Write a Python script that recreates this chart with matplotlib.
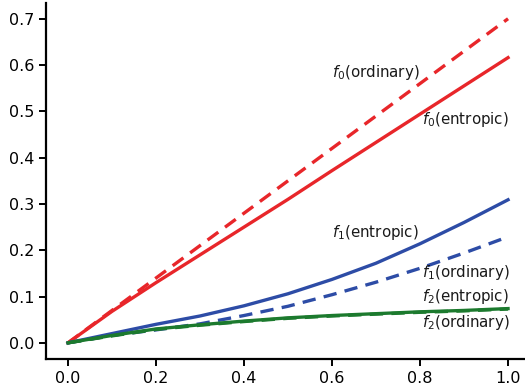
"""entropic vs ordinary"""

import numpy as np
import matplotlib.pyplot as plt

# 読み取った値
x = [0.0, 0.1, 0.2, 0.3, 0.4, 0.5, 0.6, 0.7, 0.8, 0.9, 1.0]
f0_ordinary = [0.0, 0.07, 0.14, 0.21, 0.28, 0.35, 0.42, 0.49, 0.56, 0.63, 0.70]
f0_entropic = [0.0, 0.068, 0.130, 0.190, 0.250, 0.310, 0.372, 0.433, 0.494, 0.555, 0.616]
f1_entropic = [0.0, 0.020, 0.040, 0.058, 0.080, 0.106, 0.137, 0.172, 0.214, 0.260, 0.309]
f1_ordinary = [0.0, 0.016, 0.028, 0.041, 0.059, 0.079, 0.104, 0.131, 0.161, 0.194, 0.229]
f2_entropic = [0.0, 0.016, 0.030, 0.039, 0.047, 0.054, 0.059, 0.063, 0.067, 0.070, 0.074]
f2_ordinary = [0.0, 0.015, 0.029, 0.038, 0.046, 0.053, 0.058, 0.062, 0.066, 0.069, 0.073]

labels = ["$f_0$(ordinary)", "$f_0$(entropic)", "$f_1$(entropic)",
          "$f_1$(ordinary)", "$f_2$(entropic)", "$f_2$(ordinary)"]
label_x = [0.60, 0.805, 0.60, 0.805, 0.805, 0.805]
label_y = [0.584, 0.482, 0.239, 0.151, 0.101, 0.045]

red = "#e8262a"
blue = "#2d4ca6"
green = "#1c7a2e"

fig = plt.figure(figsize=(5.25, 3.89), dpi=100)
ax = fig.add_axes([0.0876, 0.077, 0.922, 0.9165])

lw = 2.4
ax.plot(x, f0_ordinary, color=red, lw=lw, ls=(0, (4, 2.5)))
ax.plot(x, f0_entropic, color=red, lw=lw)
ax.plot(x, f1_entropic, color=blue, lw=lw)
ax.plot(x, f1_ordinary, color=blue, lw=lw, ls=(0, (4, 2.5)))
ax.plot(x, f2_ordinary, color=green, lw=lw, ls=(0, (4, 2.5)))
ax.plot(x, f2_entropic, color=green, lw=lw)

for t, tx, ty in zip(labels, label_x, label_y):
    ax.text(tx, ty, t, fontsize=10.8, va="center", ha="left", color="#1a1a1a")

ax.set_xlim(-0.05, 1.05)
ax.set_ylim(-0.035, 0.735)
ax.set_xticks([0.0, 0.2, 0.4, 0.6, 0.8, 1.0])
ax.set_yticks([0.0, 0.1, 0.2, 0.3, 0.4, 0.5, 0.6, 0.7])

# 枠線
ax.spines["top"].set_visible(False)
ax.spines["right"].set_visible(False)
for s in ["left", "bottom"]:
    ax.spines[s].set_linewidth(1.6)
ax.tick_params(labelsize=11.5, width=1.4, length=5)

fig.savefig("out.png", dpi=100)
